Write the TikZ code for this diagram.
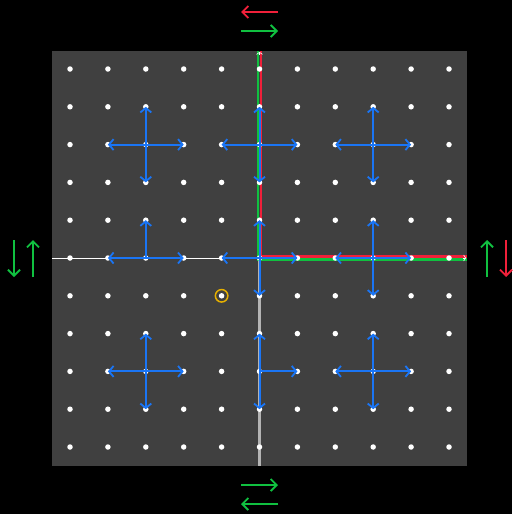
\documentclass[tikz,border=0pt]{standalone}
\usetikzlibrary{arrows.meta}
\definecolor{bgpanel}{HTML}{404040}
\definecolor{bluearr}{HTML}{1A75F5}
\definecolor{redarr}{HTML}{F0203A}
\definecolor{greenarr}{HTML}{10C040}
\definecolor{axisgrey}{HTML}{B4B4B4}
\definecolor{marker}{HTML}{E6B000}
\tikzset{
  dot/.style={circle,fill=white,draw=none,minimum size=5.5pt,inner sep=0pt},
  barrow/.style={draw=bluearr,line width=2pt,-{Straight Barb[length=4.5pt,width=11pt,line width=1.8pt]}},
  outarrowr/.style={draw=redarr,line width=2pt,-{Straight Barb[length=6pt,width=12pt,line width=1.8pt]}},
  outarrowg/.style={draw=greenarr,line width=2pt,-{Straight Barb[length=6pt,width=12pt,line width=1.8pt]}},
  tinytip/.style={draw=white,line width=0.6pt,-{Straight Barb[length=2pt,width=6pt]}},
}
\begin{document}
\begin{tikzpicture}[x=1pt,y=-1pt]
\useasboundingbox (0,0) rectangle (512,514);
\fill[black] (0,0) rectangle (512,514);
\fill[bgpanel] (52,51) rectangle (467,466);
% coordinates of axes ends
\coordinate (leftend) at (52,258);
\coordinate (origin) at (259.5,258);
\coordinate (bottomend) at (259.5,466);
\coordinate (topend) at (259.5,51);
\coordinate (rightend) at (467,258);
% axes
\draw[white,line width=1pt] (leftend) -- (origin);
\draw[axisgrey,line width=2.2pt] (origin) -- (bottomend);
% red / green path
\draw[greenarr,line width=2.6pt] ([xshift=-1.5pt]topend) -- ([xshift=-1.5pt,yshift=-1.5pt]origin) -- ([yshift=-1.5pt]rightend);
\draw[redarr,line width=2.6pt] ([xshift=1.5pt]topend) -- ([xshift=1.5pt,yshift=1.5pt]origin) -- ([yshift=1.5pt]rightend);
\draw[tinytip] ([yshift=-4pt]topend) -- ([yshift=-1pt]topend);
\draw[tinytip] ([xshift=-4pt]rightend) -- ([xshift=-1pt]rightend);
% dots
\foreach \i in {0,...,10}{
  \foreach \j in {0,...,10}{
    \node[dot] (d-\i-\j) at ({70+37.9*\i},{69+37.8*\j}) {};
  }
}
% blue arrows
\foreach \i/\j in {2/2,5/2,8/2,5/5,8/5,2/8,8/8}{
  \pgfmathtruncatemacro{\l}{\i-1}
  \pgfmathtruncatemacro{\r}{\i+1}
  \pgfmathtruncatemacro{\u}{\j-1}
  \pgfmathtruncatemacro{\dd}{\j+1}
  \draw[barrow] (d-\i-\j.center) -- (d-\l-\j.center);
  \draw[barrow] (d-\i-\j.center) -- (d-\r-\j.center);
  \draw[barrow] (d-\i-\j.center) -- (d-\i-\u.center);
  \draw[barrow] (d-\i-\j.center) -- (d-\i-\dd.center);
}
\draw[barrow] (d-2-5.center) -- (d-1-5.center);
\draw[barrow] (d-2-5.center) -- (d-3-5.center);
\draw[barrow] (d-2-5.center) -- (d-2-4.center);
\draw[barrow] (d-5-8.center) -- (d-5-7.center);
\draw[barrow] (d-5-8.center) -- (d-5-9.center);
\draw[barrow] (d-5-8.center) -- (d-6-8.center);
% marker circle
\node[circle,draw=marker,line width=1.5pt,minimum size=12.5pt,inner sep=0pt] (mark) at (d-4-6.center) {};
% outer arrows
\coordinate (t1s) at (278,12); \coordinate (t1e) at (241,12);
\coordinate (t2s) at (241,31); \coordinate (t2e) at (278,31);
\draw[outarrowr] (t1s) -- (t1e);
\draw[outarrowg] (t2s) -- (t2e);
\coordinate (b1s) at (241,485); \coordinate (b1e) at (278,485);
\coordinate (b2s) at (278,504); \coordinate (b2e) at (241,504);
\draw[outarrowg] (b1s) -- (b1e);
\draw[outarrowg] (b2s) -- (b2e);
\coordinate (l1s) at (14,240); \coordinate (l1e) at (14,277);
\coordinate (l2s) at (33,277); \coordinate (l2e) at (33,240);
\draw[outarrowg] (l1s) -- (l1e);
\draw[outarrowg] (l2s) -- (l2e);
\coordinate (r1s) at (487,277); \coordinate (r1e) at (487,240);
\coordinate (r2s) at (506,240); \coordinate (r2e) at (506,277);
\draw[outarrowg] (r1s) -- (r1e);
\draw[outarrowr] (r2s) -- (r2e);
\end{tikzpicture}
\end{document}
